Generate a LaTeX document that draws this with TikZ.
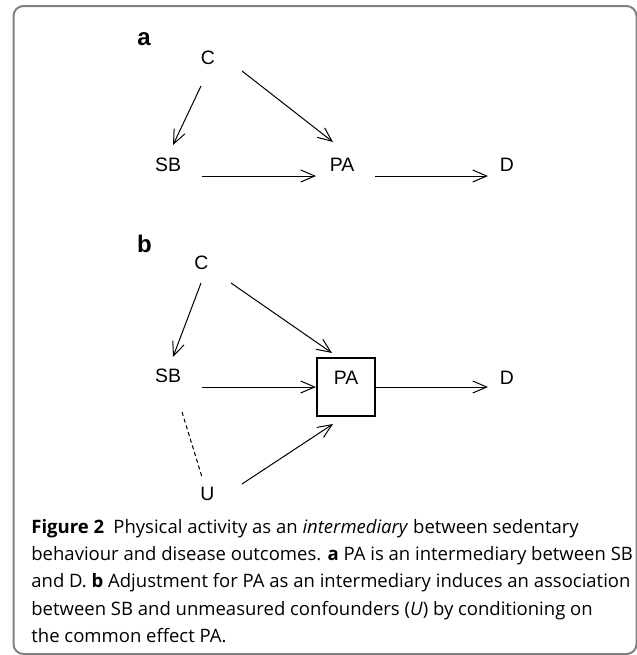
\documentclass[tikz,border=0pt]{standalone}
\usepackage{fontspec}
\setmainfont{Open Sans}
\newfontfamily\dagfont{Liberation Sans}
\usetikzlibrary{arrows.meta}

\begin{document}
\begin{tikzpicture}[x=0.5pt, y=-0.5pt,
    var/.style={font=\dagfont\fontsize{9.7}{11}\selectfont, inner sep=0pt},
    panel/.style={font=\dagfont\bfseries\fontsize{12}{13}\selectfont, inner sep=0pt},
    adjbox/.style={var, draw, line width=1.1pt, minimum size=29pt, text height=6.9pt, text depth=9.3pt},
    arr/.style={-{Straight Barb[length=7pt,width=6pt]}, line width=0.5pt},
    assoc/.style={line width=0.5pt, dash pattern=on 2pt off 1.5pt},
    caption/.style={font=\fontsize{9.25}{13.6}\selectfont, inner sep=0pt, align=left}]

    \useasboundingbox (0,0) rectangle (637,655);
    \draw [gray, line width=1pt, rounded corners=5pt] (13.5,6) rectangle (636.5,654);

    % panel a
    \node [panel] (la) at (144,39) { a };
    \node [var] (aC) at (208,57.5) { C };
    \node [var] (aSB) at (168,165) { SB };
    \node [var] (aPA) at (342,165) { PA };
    \node [var] (aD) at (507,165) { D };
    \draw [arr] ([shift={(-7,28.5)}]aC.center) -- ([shift={(5,-20)}]aSB.center);
    \draw [arr] ([shift={(34,13.5)}]aC.center) -- ([shift={(-9,-23)}]aPA.center);
    \draw [arr] ([shift={(34,11)}]aSB.center) -- ([shift={(-26,11)}]aPA.center);
    \draw [arr] ([shift={(33,11)}]aPA.center) -- ([shift={(-19,11)}]aD.center);

    % panel b
    \node [panel] (lb) at (144.5,244) { b };
    \node [var] (bC) at (201.5,262.5) { C };
    \node [var] (bSB) at (168,376) { SB };
    \node [adjbox] (bPA) at (346,387) { PA };
    \node [var] (bD) at (507,377.5) { D };
    \node [var] (bU) at (207.5,494) { U };
    \draw [arr] ([shift={(-0.5,20.5)}]bC.center) -- ([shift={(5,-19)}]bSB.center);
    \draw [arr] ([shift={(29.5,20.5)}]bC.center) -- ([shift={(-14,-34)}]bPA.center);
    \draw [arr] ([shift={(34,11)}]bSB.center) -- (bPA.west);
    \draw [arr] (bPA.east) -- ([shift={(-19,9.5)}]bD.center);
    \draw [arr] ([shift={(34.5,-10)}]bU.center) -- ([shift={(-13,37)}]bPA.center);
    \draw [assoc] ([shift={(14,36)}]bSB.center) -- ([shift={(-5.5,-17)}]bU.center);

    % caption
    \node [caption, anchor=north west] (cap) at (31,519) {\textbf{Figure 2}\enspace Physical activity as an \textit{intermediary} between sedentary\\
        behaviour and disease outcomes. \textbf{a} PA is an intermediary between SB\\
        and D. \textbf{b} Adjustment for PA as an intermediary induces an association\\
        between SB and unmeasured confounders (\textit{U}) by conditioning on\\
        the common effect PA.};
\end{tikzpicture}
\end{document}
